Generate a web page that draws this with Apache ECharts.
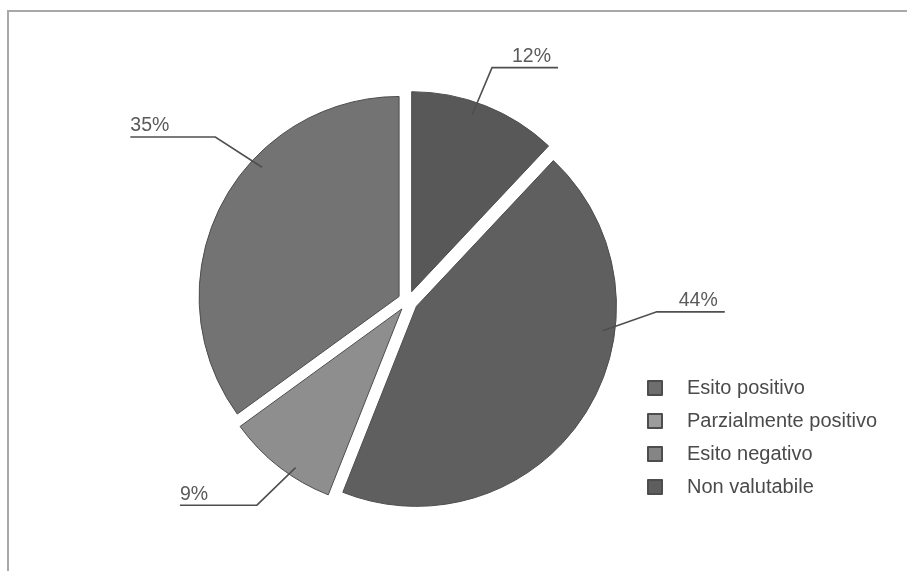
<!DOCTYPE html>
<html>
<head>
<meta charset="utf-8">
<script src="https://cdn.jsdelivr.net/npm/echarts@6/dist/echarts.min.js"></script>
<style>
  html, body { margin: 0; padding: 0; background: #fff; }
  #chart { position: absolute; left: 0; top: 0; width: 907px; height: 571px; }
  #frame { position: absolute; left: 7px; top: 10px; width: 910px; height: 570px;
           border-top: 2px solid #a8a8a8; border-left: 2px solid #a8a8a8; pointer-events: none; }
</style>
</head>
<body>
<div id="chart"></div>
<div id="frame"></div>
<script>
// ---- data ----
const categories = ['Esito positivo', 'Parzialmente positivo', 'Esito negativo', 'Non valutabile'];
const values = [44, 9, 35, 12];

// ---- styles / layout ----
const sliceColors = ['#5f5f5f', '#8e8e8e', '#737373', '#585858'];
const legendColors = ['#6e6e6e', '#9c9c9c', '#858585', '#5e5e5e'];
const pieCenter = [408, 301];
const pieRadius = 200;
// leader line geometry: start angle/radius, elbow angle/radius, horizontal length, side
const guides = [
  { a0: 98.7, r0: 197, a1: 92.5, r1: 249, len: 68, side: 1 },
  { a0: 214, r0: 201, a1: 216.5, r1: 254, len: 77, side: -1 },
  { a0: 312.5, r0: 198, a1: 310.4, r1: 253, len: 85, side: -1 },
  { a0: 19, r0: 197, a1: 19.8, r1: 248, len: 66, side: 1 }
];

function polar(a, r) {
  const t = a * Math.PI / 180;
  return [pieCenter[0] + r * Math.sin(t), pieCenter[1] - r * Math.cos(t)];
}

const chart = echarts.init(document.getElementById('chart'), null, { renderer: 'canvas' });

const font = 'Liberation Sans, Arial, Helvetica, sans-serif';
const total = values.reduce((s, v) => s + v, 0);
const startAngle = 90 - (values[3] / total) * 360;

const option = {
  backgroundColor: 'transparent',
  animation: false,
  legend: {
    orient: 'vertical',
    left: 642,
    top: 373,
    itemWidth: 14,
    itemHeight: 14,
    itemGap: 13,
    icon: 'rect',
    selectedMode: false,
    data: categories.map((c, i) => ({ name: c, itemStyle: { color: legendColors[i] } })),
    textStyle: { fontSize: 20, color: '#4a4a4a', fontFamily: font, padding: [0, 0, 0, 20] }
  },
  series: [{
    name: 'slices',
    type: 'pie',
    z: 2,
    center: pieCenter,
    radius: pieRadius,
    startAngle: startAngle,
    clockwise: true,
    selectedMode: 'multiple',
    selectedOffset: 10,
    avoidLabelOverlap: false,
    emphasis: { disabled: true },
    itemStyle: { borderColor: '#4d4d4d', borderWidth: 1 },
    label: { show: false },
    labelLine: { show: false },
    data: categories.map((c, i) => ({
      name: c,
      value: values[i],
      selected: true,
      itemStyle: { color: sliceColors[i] }
    }))
  }, {
    name: 'labels',
    type: 'pie',
    z: 6,
    center: pieCenter,
    radius: pieRadius,
    startAngle: startAngle,
    clockwise: true,
    silent: true,
    selectedMode: false,
    avoidLabelOverlap: false,
    emphasis: { disabled: true },
    itemStyle: { color: 'rgba(0,0,0,0)', borderWidth: 0 },
    label: {
      show: true,
      formatter: '{c}%',
      fontSize: 19.5,
      color: '#5a5a5a',
      fontFamily: font
    },
    labelLine: { show: true, lineStyle: { color: '#4f4f4f', width: 1.6 } },
    labelLayout: function (params) {
      const g = guides[params.dataIndex];
      const p0 = polar(g.a0, g.r0);
      const p1 = polar(g.a1, g.r1);
      const p2 = [p1[0] + g.side * g.len, p1[1]];
      return {
        x: g.side > 0 ? p2[0] - 7 : p2[0],
        y: p1[1] - 1,
        align: g.side > 0 ? 'right' : 'left',
        verticalAlign: 'bottom',
        labelLinePoints: [p0, p1, p2]
      };
    },
    data: categories.map((c, i) => ({ name: c, value: values[i] }))
  }]
};
chart.setOption(option);
</script>
</body>
</html>
